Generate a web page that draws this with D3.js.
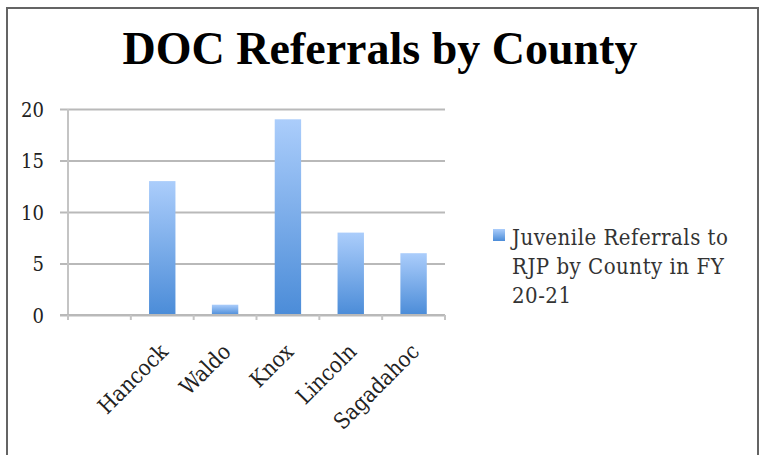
<!DOCTYPE html>
<html>
<head>
<meta charset="utf-8">
<script src="https://cdn.jsdelivr.net/npm/d3@7"></script>
<style>
  body { margin: 0; background: #fff; }
  svg { display: block; }
</style>
</head>
<body>
<div id="chart"></div>
<script>
const counties = ["", "Hancock", "Waldo", "Knox", "Lincoln", "Sagadahoc"];
const referrals = [null, 13, 1, 19, 8, 6];
const yTicks = [0, 5, 10, 15, 20];
const legendLines = ["Juvenile Referrals to", "RJP by County in FY", "20-21"];
const title = "DOC Referrals by County";

const [width, height] = [761, 455];
const plot = { left: 68, right: 445, top: 109, bottom: 315 };
const serif = "'Liberation Serif', 'DejaVu Serif', serif";
const small = "'DejaVu Serif Condensed', 'DejaVu Serif', serif";

const svg = d3.select("#chart").append("svg").attr("width", width).attr("height", height);

const defs = svg.append("defs");
const grad = defs.append("linearGradient").attr("id", "barGrad")
  .attr("x1", 0).attr("y1", 0).attr("x2", 0).attr("y2", 1);
grad.append("stop").attr("offset", "0%").attr("stop-color", "#abcdfb");
grad.append("stop").attr("offset", "100%").attr("stop-color", "#4b8cd8");

// frame
svg.append("rect")
  .attr("x", 7).attr("y", 8).attr("width", 751).attr("height", 460)
  .attr("fill", "none").attr("stroke", "#646464").attr("stroke-width", 2);

svg.append("text")
  .attr("x", 380).attr("y", 64)
  .attr("text-anchor", "middle")
  .attr("font-family", serif).attr("font-weight", "bold").attr("font-size", 46)
  .attr("fill", "#000")
  .text(title);

const x = d3.scaleBand().domain(counties).range([plot.left, plot.right])
  .paddingInner(0.58).paddingOuter(0.29);
const y = d3.scaleLinear().domain([0, 20]).range([plot.bottom, plot.top]);

// gridlines + y axis
const yAxis = d3.axisLeft(y).tickValues(yTicks).tickSize(plot.right - 60).tickPadding(16);
const gy = svg.append("g").attr("transform", `translate(${plot.right}, 0)`).call(yAxis);
gy.select(".domain").remove();
gy.selectAll(".tick line").attr("stroke", "#b9b9b9").attr("stroke-width", 2);
gy.selectAll(".tick text")
  .attr("font-family", small).attr("font-size", 20).attr("fill", "#222")
  .attr("dy", "0.36em");

svg.append("line")
  .attr("x1", plot.left).attr("x2", plot.left)
  .attr("y1", plot.top).attr("y2", plot.bottom + 4)
  .attr("stroke", "#c4c4c4").attr("stroke-width", 2);

// bars
svg.append("g").selectAll("rect")
  .data(counties.map((c, i) => ({ county: c, value: referrals[i] })).filter(d => d.value != null))
  .enter().append("rect")
  .attr("x", d => x(d.county))
  .attr("width", x.bandwidth())
  .attr("y", d => y(d.value))
  .attr("height", d => y(0) - y(d.value))
  .attr("fill", "url(#barGrad)");

// x axis
const step = x.step();
const gx = svg.append("g").attr("transform", `translate(0, ${plot.bottom})`);
gx.append("line")
  .attr("x1", plot.left - 8).attr("x2", plot.right)
  .attr("stroke", "#b9b9b9").attr("stroke-width", 2);
gx.selectAll("line.tick").data(d3.range(counties.length + 1)).enter().append("line")
  .attr("class", "tick")
  .attr("x1", i => plot.left + i * step).attr("x2", i => plot.left + i * step)
  .attr("y1", 0).attr("y2", 5)
  .attr("stroke", "#c4c4c4").attr("stroke-width", 2);

gx.selectAll("text").data(counties).enter().append("text")
  .attr("transform", d => `translate(${x(d) + x.bandwidth() / 2 + 7}, 38) rotate(-45)`)
  .attr("text-anchor", "end")
  .attr("font-family", small).attr("font-size", 22).attr("fill", "#222")
  .text(d => d);

// legend
const legend = svg.append("g").attr("transform", "translate(493, 229)");
legend.append("rect").attr("width", 12).attr("height", 12).attr("fill", "url(#barGrad)");
legend.selectAll("text").data(legendLines).enter().append("text")
  .attr("x", 19).attr("y", (d, i) => 16 + i * 29)
  .attr("font-family", small).attr("font-size", 22).attr("letter-spacing", 0.5)
  .attr("fill", "#333")
  .text(d => d);
</script>
</body>
</html>
